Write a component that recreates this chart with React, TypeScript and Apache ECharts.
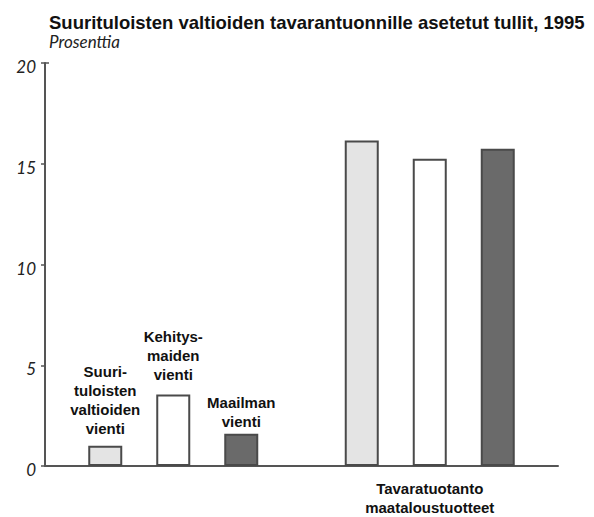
import React, { useEffect, useRef } from "react";
import * as echarts from "echarts";

const titleText = "Suurituloisten valtioiden tavarantuonnille asetetut tullit, 1995";
const subtitleText = "Prosenttia";
const categories = ["", "Tavaratuotanto\nmaataloustuotteet"];
const seriesNames = [
  "Suuri-\ntuloisten\nvaltioiden\nvienti",
  "Kehitys-\nmaiden\nvienti",
  "Maailman\nvienti",
];
const highIncomeExports = [1.0, 16.15];
const developingExports = [3.55, 15.25];
const worldExports = [1.6, 15.75];
const yTicks = [0, 5, 10, 15, 20];

const fills = ["#e4e4e4", "#ffffff", "#6a6a6a"];
const labelDistances = [8, 10, 3];

export default function App() {
  const ref = useRef<HTMLDivElement>(null);
  useEffect(() => {
    if (!ref.current) return;
    const chart = echarts.init(ref.current, undefined, { renderer: "svg" });
    const values = [highIncomeExports, developingExports, worldExports];
    chart.setOption({
      animation: false,
      backgroundColor: "#ffffff",
      title: [
        {
          text: titleText,
          left: 44,
          top: 8,
          textStyle: {
            fontFamily: "Liberation Sans, Arial, sans-serif",
            fontWeight: "bold",
            fontSize: 18.5,
            color: "#111",
          },
        },
        {
          text: subtitleText,
          left: 44,
          top: 28,
          textStyle: {
            fontFamily: "Lato, sans-serif",
            fontStyle: "italic",
            fontWeight: "normal",
            fontSize: 17,
            color: "#222",
          },
        },
      ],
      grid: { left: 45, right: 36, top: 63, bottom: 46, containLabel: false },
      xAxis: {
        type: "category",
        data: categories,
        axisLine: { lineStyle: { color: "#555", width: 2 } },
        axisTick: { show: false },
        axisLabel: {
          margin: 13,
          fontFamily: "Liberation Sans, Arial, sans-serif",
          fontWeight: "bold",
          fontSize: 15,
          lineHeight: 19,
          color: "#111",
        },
      },
      yAxis: {
        type: "value",
        min: yTicks[0],
        max: yTicks[yTicks.length - 1],
        interval: 5,
        splitLine: { show: false },
        axisLine: { show: true, lineStyle: { color: "#555", width: 2 } },
        axisTick: { show: true, length: 4, lineStyle: { color: "#555", width: 1.5 } },
        axisLabel: {
          margin: 9,
          fontFamily: "Lato, sans-serif",
          fontStyle: "italic",
          fontSize: 17,
          color: "#222",
          verticalAlign: "top",
          padding: [-5, 0, 0, 0],
        },
      },
      series: seriesNames.map((name, i) => ({
        type: "bar",
        name,
        barWidth: 34,
        barGap: "100%",
        itemStyle: { color: fills[i], borderColor: "#4a4a4a", borderWidth: 2 },
        data: values[i].map((v, j) =>
          j === 0
            ? {
                value: v,
                label: {
                  show: true,
                  position: "top",
                  distance: labelDistances[i],
                  formatter: name,
                  fontFamily: "Liberation Sans, Arial, sans-serif",
                  fontWeight: "bold",
                  fontSize: 15,
                  lineHeight: 19,
                  color: "#111",
                },
              }
            : { value: v }
        ),
      })),
    });
    const top = chart.convertToPixel({ gridIndex: 0 }, [0, yTicks[yTicks.length - 1]]);
    const axisX = 45;
    if (top) {
      chart.setOption({
        graphic: [
          {
            type: "line",
            shape: { x1: axisX, y1: top[1], x2: axisX + 4, y2: top[1] },
            style: { stroke: "#555", lineWidth: 1.5 },
          },
        ],
      });
    }
    return () => chart.dispose();
  }, []);
  return (
    <div
      ref={ref}
      style={{ position: "absolute", left: 0, top: 0, width: 594, height: 517 }}
    />
  );
}
